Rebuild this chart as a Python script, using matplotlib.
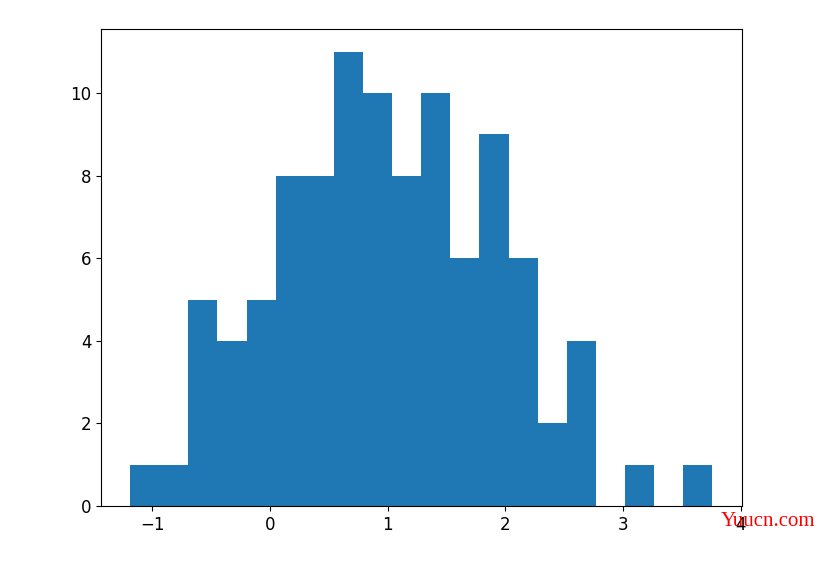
import numpy as np
import matplotlib
matplotlib.use("Agg")
import matplotlib.pyplot as plt

# histogram: 20 equal bins
bin_lo = -1.19
bin_hi = 3.76
n_bins = 20
counts = [1, 1, 5, 4, 5, 8, 8, 11, 10, 8, 10, 6, 9, 6, 2, 4, 0, 1, 0, 1]

edges = np.linspace(bin_lo, bin_hi, n_bins + 1)
centers = (edges[:-1] + edges[1:]) / 2

fig = plt.figure(figsize=(8.31, 5.76), dpi=100)
ax = fig.add_axes([101 / 831, 70 / 576, 640.5 / 831, 477 / 576])
ax.hist(centers, bins=edges, weights=counts, color="#1f77b4")

ax.set_yticks([0, 2, 4, 6, 8, 10])
ax.set_xticks([-1, 0, 1, 2, 3, 4])
ax.tick_params(labelsize=12)

# site watermark in the bottom right corner (sits over the "4" like the original)
fig.text(721 / 831, 1 - 521 / 576, "Yuucn.com", color="red",
         family="Liberation Serif", fontsize=15, va="center", ha="left")

fig.savefig("out.png", dpi=100)
